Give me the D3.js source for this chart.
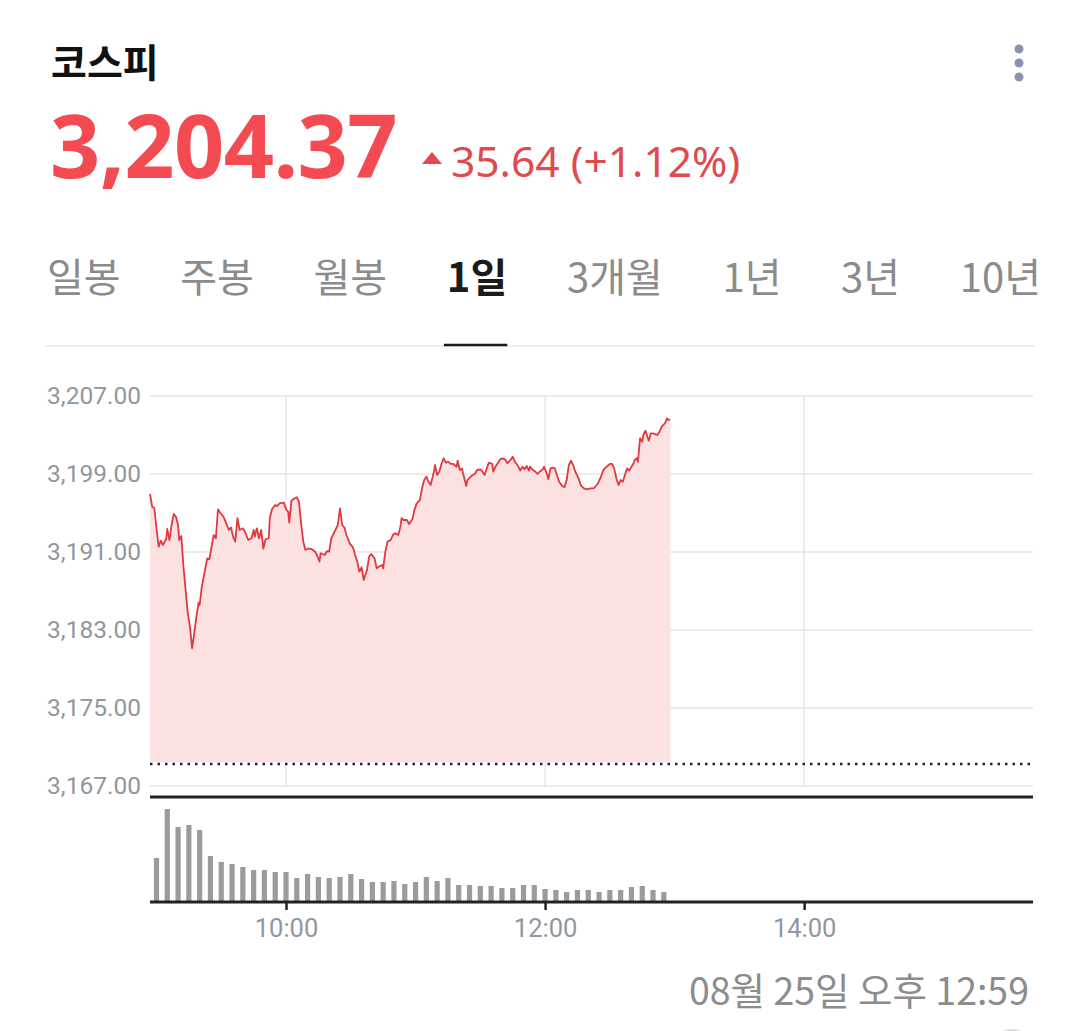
<!DOCTYPE html>
<html>
<head>
<meta charset="utf-8">
<script src="https://cdn.jsdelivr.net/npm/d3@7"></script>
<style>
  body { margin: 0; background: #fff; }
  svg { display: block; }
</style>
</head>
<body>
<svg id="chart" width="1066" height="1031"></svg>
<script>
// ---- data ----
var title = "코스피";
var lastPrice = "3,204.37";
var changeText = "35.64 (+1.12%)";
var stampText = "08월 25일 오후 12:59";
var tabs = ["일봉", "주봉", "월봉", "1일", "3개월", "1년", "3년", "10년"];
var activeTab = "1일";

var yTicks = [3167, 3175, 3183, 3191, 3199, 3207];
var xTicks = ["10:00", "12:00", "14:00"];
var xDomain = ["08:57", "15:46"];
var baseValue = 3169.26;   // dotted reference line (previous close)

// index level, [time, value]
var prices = [
  ["08:57:00", 3196.95], ["08:58:00", 3195.65], ["08:59:00", 3195.51], ["09:00:00", 3193.46], ["09:01:00", 3191.54],
  ["09:02:00", 3192.16], ["09:03:00", 3191.72], ["09:04:30", 3192.33], ["09:05:00", 3193.36], ["09:06:00", 3192.23],
  ["09:07:00", 3193.77], ["09:08:00", 3194.90], ["09:09:00", 3194.62], ["09:10:00", 3193.77], ["09:10:30", 3192.23],
  ["09:11:30", 3192.64], ["09:12:30", 3189.49], ["09:13:30", 3187.10], ["09:14:30", 3184.74], ["09:15:30", 3183.34],
  ["09:16:30", 3181.12], ["09:17:30", 3182.69], ["09:18:30", 3184.36], ["09:19:30", 3185.80], ["09:20:00", 3185.56],
  ["09:21:00", 3187.44], ["09:22:30", 3189.15], ["09:23:30", 3190.35], ["09:24:30", 3190.25], ["09:25:30", 3191.54],
  ["09:26:30", 3192.74], ["09:27:30", 3192.41], ["09:28:30", 3195.38], ["09:29:30", 3195.03], ["09:31:00", 3194.62],
  ["09:32:00", 3194.11], ["09:33:30", 3193.26], ["09:34:30", 3193.53], ["09:35:30", 3192.57], ["09:36:30", 3192.06],
  ["09:37:30", 3194.46], ["09:38:30", 3193.26], ["09:40:00", 3193.43], ["09:41:00", 3193.08], ["09:42:30", 3192.23],
  ["09:44:00", 3192.41], ["09:45:00", 3193.26], ["09:45:30", 3192.57], ["09:46:30", 3193.43], ["09:47:30", 3192.41],
  ["09:48:30", 3193.26], ["09:49:30", 3191.34], ["09:50:30", 3192.30], ["09:52:00", 3192.41], ["09:52:30", 3194.46],
  ["09:53:30", 3195.38], ["09:55:00", 3195.82], ["09:56:00", 3195.72], ["09:57:00", 3195.99], ["09:59:00", 3196.06],
  ["10:00:00", 3195.38], ["10:01:00", 3195.13], ["10:01:30", 3194.01], ["10:02:30", 3196.26], ["10:04:00", 3196.51],
  ["10:05:00", 3196.61], ["10:06:00", 3196.16], ["10:07:00", 3193.94], ["10:08:00", 3192.06], ["10:09:00", 3191.21],
  ["10:10:30", 3191.38], ["10:12:00", 3191.28], ["10:13:30", 3191.03], ["10:14:30", 3190.59], ["10:15:30", 3190.01],
  ["10:16:00", 3190.87], ["10:18:00", 3190.69], ["10:19:00", 3191.10], ["10:20:00", 3191.03], ["10:21:00", 3192.41],
  ["10:22:30", 3193.08], ["10:24:00", 3193.77], ["10:25:00", 3195.48], ["10:26:00", 3193.77], ["10:27:00", 3193.53],
  ["10:28:00", 3192.74], ["10:29:30", 3191.89], ["10:31:00", 3191.48], ["10:32:00", 3190.69], ["10:33:00", 3190.01],
  ["10:34:00", 3188.98], ["10:35:00", 3189.43], ["10:36:00", 3188.13], ["10:37:30", 3189.15], ["10:38:30", 3190.52],
  ["10:39:30", 3190.79], ["10:41:00", 3190.35], ["10:42:00", 3189.33], ["10:43:00", 3189.49], ["10:44:30", 3189.67],
  ["10:45:00", 3189.33], ["10:46:00", 3191.03], ["10:47:00", 3192.06], ["10:48:30", 3192.23], ["10:49:30", 3192.74],
  ["10:50:30", 3192.92], ["10:52:00", 3192.74], ["10:53:00", 3193.59], ["10:53:30", 3194.46], ["10:54:30", 3194.28],
  ["10:56:00", 3194.28], ["10:57:00", 3193.87], ["10:58:30", 3194.35], ["10:59:30", 3195.31], ["11:00:30", 3195.99],
  ["11:02:00", 3196.33], ["11:03:00", 3197.53], ["11:04:00", 3198.38], ["11:05:00", 3198.72], ["11:06:00", 3198.21],
  ["11:07:00", 3197.87], ["11:08:30", 3199.24], ["11:09:00", 3199.92], ["11:10:00", 3198.90], ["11:11:00", 3199.24],
  ["11:12:00", 3200.03], ["11:13:00", 3200.61], ["11:14:00", 3200.16], ["11:15:00", 3200.26], ["11:16:30", 3200.03],
  ["11:17:30", 3200.03], ["11:19:00", 3199.75], ["11:19:30", 3200.36], ["11:20:30", 3199.41], ["11:21:30", 3199.58],
  ["11:22:00", 3199.07], ["11:23:30", 3197.77], ["11:24:00", 3198.38], ["11:25:30", 3198.72], ["11:26:30", 3198.90],
  ["11:27:30", 3199.00], ["11:28:30", 3199.41], ["11:30:00", 3199.48], ["11:31:00", 3199.24], ["11:32:00", 3198.90],
  ["11:33:30", 3199.92], ["11:34:00", 3200.16], ["11:35:30", 3200.03], ["11:36:00", 3199.24], ["11:37:00", 3199.75],
  ["11:38:30", 3200.26], ["11:39:00", 3200.44], ["11:40:00", 3200.61], ["11:41:30", 3200.51], ["11:42:30", 3200.10],
  ["11:44:00", 3200.44], ["11:45:00", 3200.77], ["11:46:00", 3200.26], ["11:47:30", 3199.82], ["11:48:30", 3199.34],
  ["11:49:30", 3199.75], ["11:50:30", 3199.48], ["11:51:30", 3199.82], ["11:52:30", 3199.34], ["11:53:00", 3199.75],
  ["11:54:00", 3199.48], ["11:55:30", 3199.24], ["11:56:30", 3199.00], ["11:57:30", 3199.24], ["11:59:00", 3199.48],
  ["11:59:30", 3199.75], ["12:01:00", 3198.90], ["12:01:30", 3198.46], ["12:02:30", 3199.58], ["12:03:30", 3199.65],
  ["12:04:30", 3199.58], ["12:05:30", 3198.90], ["12:06:30", 3198.21], ["12:08:00", 3197.77], ["12:09:00", 3197.64],
  ["12:10:00", 3198.38], ["12:11:00", 3199.92], ["12:12:00", 3200.36], ["12:13:00", 3199.92], ["12:14:00", 3199.24],
  ["12:15:30", 3198.56], ["12:16:30", 3197.87], ["12:18:00", 3197.53], ["12:19:30", 3197.43], ["12:21:00", 3197.53],
  ["12:22:30", 3197.53], ["12:23:30", 3197.77], ["12:24:30", 3198.05], ["12:26:00", 3198.79], ["12:27:00", 3199.41],
  ["12:28:30", 3199.75], ["12:30:00", 3200.03], ["12:31:00", 3200.03], ["12:32:00", 3199.58], ["12:33:00", 3198.56],
  ["12:34:00", 3197.87], ["12:35:00", 3198.38], ["12:36:00", 3198.21], ["12:37:00", 3198.90], ["12:38:00", 3199.58],
  ["12:39:00", 3199.34], ["12:40:00", 3199.75], ["12:41:00", 3200.10], ["12:41:30", 3200.44], ["12:42:30", 3200.61],
  ["12:43:00", 3200.26], ["12:44:00", 3202.66], ["12:45:00", 3202.31], ["12:45:30", 3203.00], ["12:46:30", 3203.44],
  ["12:48:00", 3202.42], ["12:49:00", 3203.17], ["12:50:00", 3203.17], ["12:52:00", 3203.00], ["12:53:00", 3203.34],
  ["12:54:00", 3203.85], ["12:55:30", 3204.20], ["12:56:30", 3204.71], ["12:57:00", 3204.54], ["12:58:00", 3204.61]
];

// 5-minute volume bars from 09:00 (relative units)
var volumeStart = "09:00";
var volumes = [44, 93, 75, 77, 72, 46, 40, 38, 35, 32, 32, 30,
               30, 24, 28, 25, 24, 25, 28, 23, 20, 20, 21, 18,
               20, 25, 21, 24, 17, 17, 16, 16, 14, 14, 17, 17,
               13, 12, 10, 12, 12, 10, 12, 12, 15, 16, 12, 10];

// ---- drawing ----
var svg = d3.select("#chart");

var parseT = d3.timeParse("%H:%M:%S"),
    parseHM = d3.timeParse("%H:%M");

var left = 150, right = 1033;
var x = d3.scaleTime()
  .domain(xDomain.map(parseHM))
  .range([left, right]);
var y = d3.scaleLinear()
  .domain([yTicks[0], yTicks[yTicks.length - 1]])
  .range([786, 396]);
var yVol = d3.scaleLinear()
  .domain([0, 100])
  .range([902, 802]);

var kr = "'Noto Sans CJK KR', 'Noto Sans', sans-serif";
var num = "'Noto Sans', 'Noto Sans CJK KR', sans-serif";
var axisFont = "Roboto, 'Noto Sans', sans-serif";

// header
svg.append("text")
  .attr("x", 51).attr("y", 77)
  .style("font-family", kr).style("font-weight", 700).style("font-size", "39px")
  .attr("fill", "#111")
  .text(title);

svg.append("text")
  .attr("x", 50).attr("y", 178)
  .style("font-family", num).style("font-weight", 700).style("font-size", "88px")
  .style("letter-spacing", "-0.6px")
  .attr("fill", "#f34b51")
  .text(lastPrice);

svg.append("path")
  .attr("d", "M422,164 L432,152 L442,164 Z")
  .attr("fill", "#e4474d");

svg.append("text")
  .attr("x", 451).attr("y", 177)
  .style("font-family", num).style("font-weight", 400).style("font-size", "42.5px")
  .attr("fill", "#df4a4f")
  .text(changeText);

// kebab menu
svg.append("g").selectAll("circle")
  .data([49, 63, 77])
  .enter().append("circle")
  .attr("cx", 1019).attr("cy", function(d) { return d; })
  .attr("r", 4.5)
  .attr("fill", "#8a93aa");

// tabs
var tabG = svg.append("g");
var tabText = tabG.selectAll("text")
  .data(tabs)
  .enter().append("text")
  .attr("y", 292)
  .style("font-family", kr)
  .style("font-size", "40px")
  .style("font-weight", function(d) { return d == activeTab ? 700 : 400; })
  .attr("fill", function(d) { return d == activeTab ? "#1b1b1b" : "#8b8b8b"; })
  .text(function(d) { return d; });

var widths = [];
tabText.each(function() { widths.push(this.getComputedTextLength()); });
var tabL = 47, tabR = 1041;
var gap = (tabR - tabL - d3.sum(widths)) / (tabs.length - 1);
var tabX = [], cx = tabL;
for (var i = 0; i < tabs.length; i++) { tabX.push(cx); cx += widths[i] + gap; }
tabText.attr("x", function(d, i) { return tabX[i]; });

svg.append("line")
  .attr("x1", 45).attr("x2", 1034).attr("y1", 346).attr("y2", 346)
  .attr("stroke", "#ededed").attr("stroke-width", 2);
var ai = tabs.indexOf(activeTab);
svg.append("line")
  .attr("x1", tabX[ai] - 3).attr("x2", tabX[ai] + widths[ai])
  .attr("y1", 345).attr("y2", 345)
  .attr("stroke", "#1b1b1b").attr("stroke-width", 2.5);

// grid
var grid = svg.append("g").attr("class", "grid");
grid.selectAll("line.h")
  .data(yTicks)
  .enter().append("line")
  .attr("class", "h")
  .attr("x1", left).attr("x2", right)
  .attr("y1", function(d) { return y(d); })
  .attr("y2", function(d) { return y(d); })
  .attr("stroke", "#e6e6e6").attr("stroke-width", 1.5);
grid.selectAll("line.v")
  .data(xTicks.map(parseHM))
  .enter().append("line")
  .attr("class", "v")
  .attr("x1", function(d) { return x(d); })
  .attr("x2", function(d) { return x(d); })
  .attr("y1", y(yTicks[yTicks.length - 1])).attr("y2", y(yTicks[0]))
  .attr("stroke", "#e6e6e6").attr("stroke-width", 1.5);

// area + line
var pts = prices.map(function(p) { return { t: parseT(p[0]), v: p[1] }; });

var area = d3.area()
  .x(function(d) { return x(d.t); })
  .y0(y(baseValue) - 2)
  .y1(function(d) { return y(d.v); });
var line = d3.line()
  .x(function(d) { return x(d.t); })
  .y(function(d) { return y(d.v); });

svg.append("path")
  .datum(pts)
  .attr("d", area)
  .attr("fill", "#fce1e1");
svg.append("path")
  .datum(pts)
  .attr("d", line)
  .attr("fill", "none")
  .attr("stroke", "#e0393f")
  .attr("stroke-width", 1.8)
  .attr("stroke-linejoin", "round");

// base dotted line
svg.append("line")
  .attr("x1", left).attr("x2", right)
  .attr("y1", y(baseValue)).attr("y2", y(baseValue))
  .attr("stroke", "#222").attr("stroke-width", 2.5)
  .attr("stroke-dasharray", "2.5,5");

// y axis labels
var yAxis = d3.axisLeft(y)
  .tickValues(yTicks)
  .tickFormat(d3.format(",.2f"))
  .tickSize(0)
  .tickPadding(9);
var yg = svg.append("g")
  .attr("transform", "translate(" + left + ",0)")
  .call(yAxis);
yg.select(".domain").remove();
yg.selectAll("text")
  .style("font-family", axisFont).style("font-size", "24.5px")
  .attr("fill", "#8f979f");

// panel separator
svg.append("line")
  .attr("x1", left).attr("x2", right).attr("y1", 797).attr("y2", 797)
  .attr("stroke", "#222").attr("stroke-width", 3);

// volume bars
var t0 = parseHM(volumeStart);
var volData = volumes.map(function(v, i) {
  return { t: d3.timeMinute.offset(t0, i * 5), v: v };
});
svg.append("g").selectAll("rect")
  .data(volData)
  .enter().append("rect")
  .attr("x", function(d) { return x(d.t) - 2.6; })
  .attr("width", 5.2)
  .attr("y", function(d) { return yVol(d.v); })
  .attr("height", function(d) { return yVol(0) - yVol(d.v); })
  .attr("fill", "#9b9b9b");

// x axis
var xAxis = d3.axisBottom(x)
  .tickValues(xTicks.map(parseHM))
  .tickFormat(d3.timeFormat("%H:%M"))
  .tickSize(8);
var xg = svg.append("g")
  .attr("transform", "translate(0,902)")
  .call(xAxis);
xg.select(".domain").remove();
xg.selectAll("line").attr("stroke", "#222").attr("stroke-width", 2.5);
xg.selectAll("text")
  .attr("y", 17)
  .style("font-family", axisFont).style("font-size", "25.5px")
  .attr("fill", "#8f979f");

svg.append("line")
  .attr("x1", left).attr("x2", right).attr("y1", 902).attr("y2", 902)
  .attr("stroke", "#222").attr("stroke-width", 3);

// timestamp
svg.append("text")
  .attr("x", 1029).attr("y", 1005)
  .attr("text-anchor", "end")
  .style("font-family", kr).style("font-weight", 400).style("font-size", "37.5px")
  .attr("fill", "#8c8c8c")
  .text(stampText);

// partial button outline at the bottom edge
svg.append("circle")
  .attr("cx", 1012).attr("cy", 1052).attr("r", 22)
  .attr("fill", "none").attr("stroke", "#dcdcdc").attr("stroke-width", 2);
</script>
</body>
</html>
